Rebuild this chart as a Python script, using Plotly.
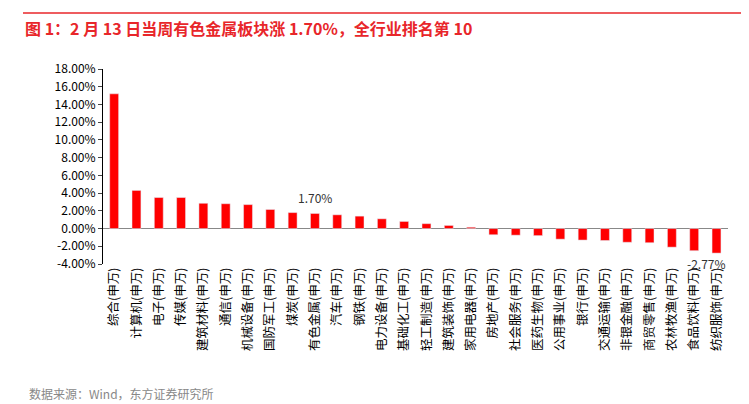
import plotly.graph_objects as go

categories = ["综合(申万)","计算机(申万)","电子(申万)","传媒(申万)","建筑材料(申万)","通信(申万)","机械设备(申万)","国防军工(申万)","煤炭(申万)","有色金属(申万)","汽车(申万)","钢铁(申万)","电力设备(申万)","基础化工(申万)","轻工制造(申万)","建筑装饰(申万)","家用电器(申万)","房地产(申万)","社会服务(申万)","医药生物(申万)","公用事业(申万)","银行(申万)","交通运输(申万)","非银金融(申万)","商贸零售(申万)","农林牧渔(申万)","食品饮料(申万)","纺织服饰(申万)"]
values = [15.2,4.3,3.5,3.5,2.85,2.8,2.7,2.15,1.8,1.70,1.55,1.4,1.1,0.8,0.55,0.35,0.15,-0.7,-0.75,-0.8,-1.2,-1.3,-1.35,-1.55,-1.6,-2.1,-2.5,-2.77]
tick_vals = [-4,-2,0,2,4,6,8,10,12,14,16,18]
tick_text = [f"{v:.2f}%" for v in tick_vals]

H, T, B = 404, 61, 148
ph = H - T - B
def py(px):  # pixel from top -> paper y
    return (H - B - px) / ph

fig = go.Figure(go.Bar(x=categories, y=values, marker_color="#ff0000", width=0.4))
fig.add_annotation(x=categories[9], y=values[9], text="1.70%", showarrow=False, yshift=16,
                   font=dict(size=12, color="#333"))
fig.add_annotation(x=categories[-1], y=values[-1], text="-2.77%", showarrow=False, yshift=-10, xshift=-10,
                   font=dict(size=12, color="#333"))
fig.update_layout(
    width=749, height=404, plot_bgcolor="white", paper_bgcolor="white",
    margin=dict(l=95, r=29, t=T, b=B), showlegend=False,
    font=dict(family="Noto Sans CJK SC, Arial", size=12, color="#000"),
    xaxis=dict(tickangle=-90, showline=False, ticks="", tickfont=dict(size=12.5)),
    yaxis=dict(range=[-4, 18], tickvals=tick_vals, ticktext=tick_text, showgrid=False, zeroline=True,
               zerolinecolor="#888", zerolinewidth=1, showline=True, linecolor="#000", ticks="outside",
               ticklen=4, tickfont=dict(size=12)),
)
fig.add_annotation(text="<b>图 1：2 月 13 日当周有色金属板块涨 1.70%，全行业排名第 10</b>", xref="paper", yref="paper",
                   x=-0.128, y=py(20), xanchor="left", yanchor="middle", showarrow=False,
                   font=dict(size=16, color="#e8262a"))
fig.add_shape(type="line", xref="paper", yref="paper", x0=-0.128, x1=1.04, y0=py(5), y1=py(5),
              line=dict(color="#e8262a", width=1.5))
fig.add_annotation(text="数据来源：Wind，东方证券研究所", xref="paper", yref="paper", x=-0.122, y=py(386),
                   xanchor="left", yanchor="middle", showarrow=False, font=dict(size=12, color="#888"))
fig.write_html("out.html")
